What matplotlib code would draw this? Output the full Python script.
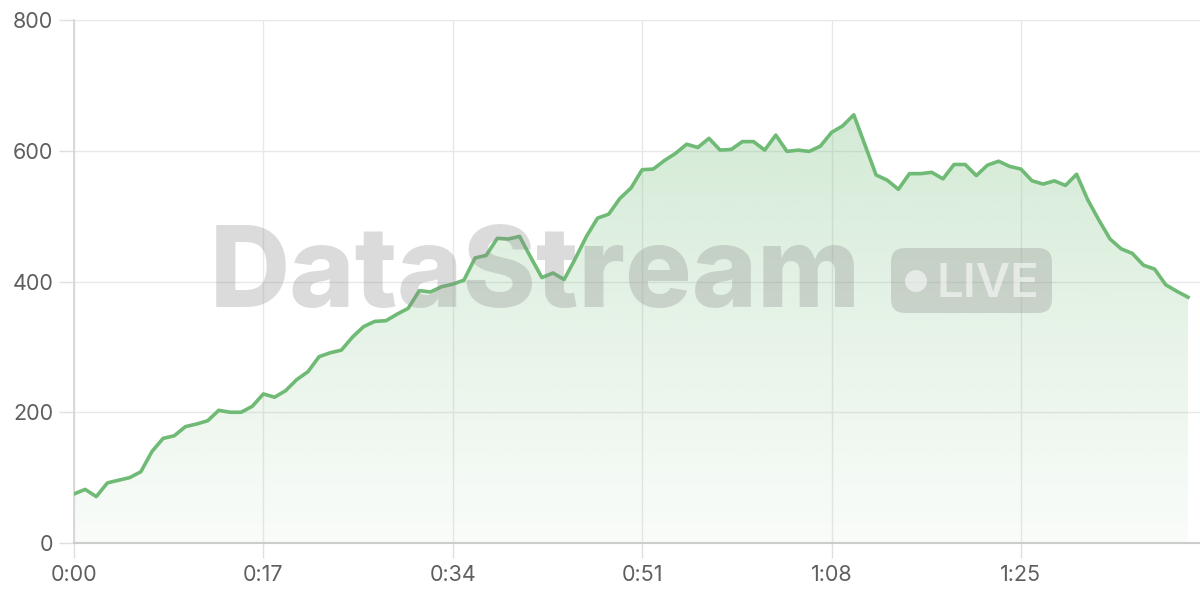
import matplotlib
matplotlib.use("Agg")
import matplotlib.pyplot as plt
import numpy as np
from matplotlib.patches import FancyBboxPatch, Circle

plt.rcParams['font.family'] = ['Inter', 'DejaVu Sans']

# seconds 0..100, one sample per second
seconds = list(range(101))
values = [
    75, 82, 71, 92, 96, 100, 109, 140, 160, 164,
    178, 182, 187, 203, 200, 200, 209, 228, 223, 233,
    250, 262, 285, 291, 295, 315, 331, 339, 340, 350,
    359, 386, 384, 392, 396, 402, 436, 440, 466, 465,
    469, 437, 406, 413, 403, 435, 469, 497, 503, 527,
    543, 571, 572, 585, 596, 610, 605, 619, 601, 602,
    614, 614, 601, 624, 599, 601, 599, 607, 628, 638,
    655, 609, 563, 555, 541, 565, 565, 567, 557, 579,
    579, 562, 578, 584, 576, 572, 554, 549, 554, 547,
    564, 525, 494, 465, 450, 443, 425, 419, 395, 385,
    376,
]
tick_seconds = [0, 17, 34, 51, 68, 85]
tick_labels = [f"{s // 60}:{s % 60:02d}" for s in tick_seconds]
y_ticks = [0, 200, 400, 600, 800]

line_color = '#6fba75'
grid_color = '#e8e8e8'
label_color = '#5f5f5f'

fig = plt.figure(figsize=(12, 6), dpi=100)
ax = fig.add_axes([74 / 1200, 57 / 600, 1126 / 1200, 523 / 600])

x = np.array(seconds)
y = np.array(values)

# gradient fill under the line
ymax = y.max()
grad = np.linspace(0.04, 0.30, 256).reshape(-1, 1)
rgba = np.zeros((256, 1, 4))
rgba[..., 0] = 0x6f / 255
rgba[..., 1] = 0xba / 255
rgba[..., 2] = 0x75 / 255
rgba[..., 3] = grad
img = ax.imshow(rgba, extent=[x[0], x[-1], 0, ymax], origin='lower',
                aspect='auto', zorder=1, interpolation='bilinear')
poly = ax.fill_between(x, y, 0, color='none', lw=0)
clip_path = poly.get_paths()[0]
img.set_clip_path(clip_path, transform=ax.transData)

ax.plot(x, y, color=line_color, lw=2.6, zorder=3, solid_joinstyle='round')

ax.set_xlim(0, 1126 / (1114 / 100))
ax.set_ylim(0, 800)
ax.set_xticks(tick_seconds)
ax.set_xticklabels(tick_labels)
ax.set_yticks(y_ticks)

ax.grid(True, color=grid_color, lw=1.0, zorder=0)
ax.set_axisbelow(True)
for side in ['top', 'right']:
    ax.spines[side].set_visible(False)
ax.spines['left'].set_color('#d4d4d4')
ax.spines['left'].set_linewidth(1.2)
ax.spines['bottom'].set_color('#cccccc')
ax.spines['bottom'].set_linewidth(1.5)
ax.tick_params(axis='both', length=11, width=1.0, color='#e0e0e0',
               labelsize=15.5, labelcolor=label_color)
ax.tick_params(axis='y', pad=4)
ax.tick_params(axis='x', pad=5)

# watermark
wm_color = '#8a8a8a'
fig.text(210 / 1200, 1 - 307 / 600, 'DataStream', fontsize=80, fontweight='heavy',
         color=wm_color, alpha=0.3, ha='left', va='baseline', zorder=10)
badge = FancyBboxPatch((891 + 14, 600 - 313 + 14), 161 - 28, 65 - 28,
                       boxstyle='round,pad=14', transform=None,
                       facecolor=wm_color, edgecolor='none', alpha=0.3, zorder=10)
fig.patches.append(badge)
dot = Circle((916, 600 - 281), 11, transform=None, facecolor='white',
             edgecolor='none', alpha=0.55, zorder=11)
fig.patches.append(dot)
fig.text(937 / 1200, 1 - 297 / 600, 'LIVE', fontsize=34, fontweight='semibold',
         color='white', alpha=0.55, ha='left', va='baseline', zorder=11)

fig.savefig('out.png', dpi=100)
